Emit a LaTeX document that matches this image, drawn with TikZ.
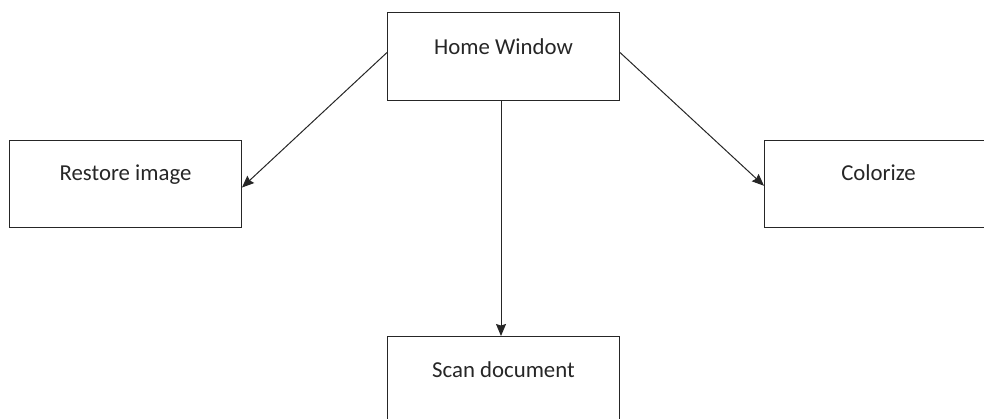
\documentclass[tikz,border=0pt]{standalone}
\usepackage{fontspec}
\setmainfont{Carlito}
\usetikzlibrary{arrows.meta,calc}
\tikzset{
  box/.style={draw=black!85, line width=1pt, inner sep=0pt, anchor=north west},
  lbl/.style={text=black!85, font=\fontsize{22.8}{27}\selectfont, inner sep=0pt},
  link/.style={draw=black!85, line width=1pt, -{Stealth[length=12pt,width=10pt,inset=1.5pt]}}
}
\begin{document}
\begin{tikzpicture}[x=1pt,y=-1pt]
  \useasboundingbox (0,0) rectangle (984,418);
  \clip (0,0) rectangle (984,418);
  % boxes
  \node[box, minimum width=232pt, minimum height=88pt] (home) at (387,12) {};
  \node[box, minimum width=232pt, minimum height=87pt] (restore) at (9,140) {};
  \node[box, minimum width=228pt, minimum height=87pt] (color) at (764,140) {};
  \node[box, minimum width=232pt, minimum height=95pt] (scan) at (387,336) {};
  % labels
  \node[lbl] (homet) at ($(home.north)+(0,35)$) {Home Window};
  \node[lbl] (restoret) at ($(restore.north)+(0,35)$) {Restore image};
  \node[lbl] (colort) at ($(color.north)+(0,33)$) {Colorize};
  \node[lbl] (scant) at ($(scan.north)+(0,34)$) {Scan document};
  % connectors
  \coordinate (hl) at ($(home.north west)!0.455!(home.south west)$);
  \coordinate (hr) at ($(home.north east)!0.455!(home.south east)$);
  \coordinate (hb) at ($(home.south west)+(114,0)$);
  \coordinate (st) at ($(scan.north west)+(114,0)$);
  \draw[link] (hl) -- ($(restore.north east)!0.54!(restore.south east)$);
  \draw[link] (hr) -- ($(color.north west)!0.52!(color.south west)$);
  \draw[link] (hb) -- (st);
\end{tikzpicture}
\end{document}
